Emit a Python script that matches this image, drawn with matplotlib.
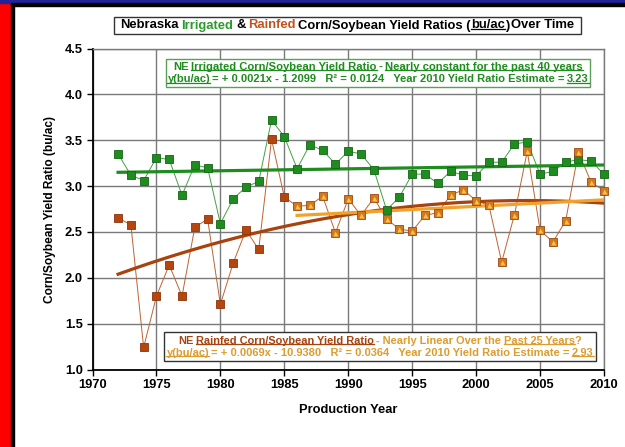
import numpy as np
import matplotlib
matplotlib.use("Agg")
import matplotlib.pyplot as plt
from matplotlib.patches import Rectangle
from matplotlib.lines import Line2D

plt.rcParams['font.family'] = ['Liberation Sans', 'DejaVu Sans']
plt.rcParams['font.weight'] = 'bold'

# data
years = list(range(1972, 2011))
irrigated = [3.35, 3.12, 3.06, 3.31, 3.29, 2.90, 3.23, 3.20, 2.59, 2.86,
             2.99, 3.05, 3.72, 3.54, 3.19, 3.45, 3.39, 3.24, 3.38, 3.35,
             3.18, 2.74, 2.88, 3.13, 3.13, 3.03, 3.16, 3.12, 3.11, 3.26,
             3.26, 3.46, 3.48, 3.13, 3.16, 3.26, 3.29, 3.27, 3.13]
rainfed = [2.65, 2.58, 1.24, 1.80, 2.14, 1.80, 2.55, 2.64, 1.71, 2.16,
           2.52, 2.31, 3.51, 2.88, 2.78, 2.79, 2.89, 2.49, 2.86, 2.68,
           2.87, 2.64, 2.53, 2.51, 2.68, 2.71, 2.90, 2.96, 2.84, 2.79,
           2.17, 2.69, 3.38, 2.52, 2.39, 2.62, 3.37, 3.04, 2.95]
split_year = 1986   # rainfed markers change style from here

irr_trend_years = [1972, 2010]
irr_trend = [3.15, 3.23]
rain_curve_years = [1972, 1976, 1980, 1985, 1990, 1995, 2000, 2005, 2010]
rain_curve = [2.04, 2.22, 2.39, 2.57, 2.70, 2.77, 2.82, 2.84, 2.82]
rain_lin_years = [1986, 2010]
rain_lin = [2.68, 2.85]

x_ticks = [1970, 1975, 1980, 1985, 1990, 1995, 2000, 2005, 2010]
y_ticks = [1.0, 1.5, 2.0, 2.5, 3.0, 3.5, 4.0, 4.5]

GREEN = '#1e8c1e'
BROWN = '#a8420e'
ORANGE = '#f0a22c'
ORTXT = '#dc9c2e'

W, H = 625, 447
fig = plt.figure(figsize=(W / 100, H / 100), dpi=100)
fig.patch.set_facecolor('white')

# frame decorations
fig.add_artist(Rectangle((0, 0), 11 / W, 1, transform=fig.transFigure, color='#ff0000', zorder=0))
fig.add_artist(Rectangle((11 / W, 0), 3 / W, 1, transform=fig.transFigure, color='black', zorder=0))
fig.add_artist(Rectangle((0, 1 - 3 / H), 1, 3 / H, transform=fig.transFigure, color='#22229a', zorder=0))
fig.add_artist(Rectangle((11 / W, 1 - 6 / H), 1, 3 / H, transform=fig.transFigure, color='black', zorder=0))

ax = fig.add_axes([92.5 / W, 1 - 369.5 / H, (604 - 92.5) / W, (369.5 - 48.5) / H])
ax.set_xlim(1970, 2010)
ax.set_ylim(1.0, 4.5)
ax.set_xticks(x_ticks)
ax.set_yticks(y_ticks)
ax.set_yticklabels(['%.1f' % v for v in y_ticks])
ax.grid(True, color='#7a7a7a', lw=1.0)
ax.set_axisbelow(True)
for s in ['top', 'right']:
    ax.spines[s].set_color('#7a7a7a')
    ax.spines[s].set_linewidth(1.0)
for s in ['left', 'bottom']:
    ax.spines[s].set_color('black')
    ax.spines[s].set_linewidth(1.3)
ax.tick_params(direction='out', length=4, width=1, labelsize=9.3, pad=3)
ax.set_xlabel('Production Year', fontsize=9.3, fontweight='bold', labelpad=9)
ax.set_ylabel('Corn/Soybean Yield Ratio (bu/ac)', fontsize=8.6, fontweight='bold', labelpad=6)

yrs = np.array(years)
irr = np.array(irrigated)
rain = np.array(rainfed)
early = yrs < split_year

# connecting lines
ax.plot(yrs, irr, color='#43a043', lw=0.7, zorder=3, clip_on=False)
ax.plot(yrs, rain, color='#bc6430', lw=0.7, zorder=3, clip_on=False)

# trend lines
ax.plot(irr_trend_years, irr_trend, color=GREEN, lw=2.3, zorder=4)
cf = np.polyfit(rain_curve_years, rain_curve, 2)
xx = np.linspace(rain_curve_years[0], rain_curve_years[-1], 200)
ax.plot(xx, np.polyval(cf, xx), color=BROWN, lw=2.3, zorder=4)
ax.plot(rain_lin_years, rain_lin, color=ORANGE, lw=2.3, zorder=4)

# markers
ax.plot(yrs, irr, 's', ms=5.4, mfc=GREEN, mec='#146414', mew=0.6, zorder=5, clip_on=False)
ax.plot(yrs[early], rain[early], 's', ms=5.4, mfc='#b4460e', mec='#8a3408', mew=0.6, zorder=5, clip_on=False)
ax.plot(yrs[~early], rain[~early], 's', ms=5.4, mfc='#d4781c', mec='#9a4a10', mew=0.6, zorder=5, clip_on=False)
ax.plot(yrs[~early], rain[~early], '^', ms=3.6, mfc='#ffc04a', mec='none', zorder=6, clip_on=False)


def rich_line(pieces, cx, cy, width):
    # pieces: (text, colour, underline, gap before it)
    items = []
    prev = None
    for s, c, u, g in pieces:
        if prev is None:
            t = ax.annotate(s, xy=(cx, H - cy), xycoords='figure pixels', ha='left', va='center',
                            color=c, fontsize=8, fontweight='bold', zorder=12, annotation_clip=False)
        else:
            t = ax.annotate(s, xy=(1, 0.5), xycoords=prev, xytext=(0, 0), textcoords='offset points',
                            ha='left', va='center',
                            color=c, fontsize=8, fontweight='bold', zorder=12, annotation_clip=False)
        items.append((t, c, u, g))
        prev = t
    return dict(items=items, cx=cx, cy=cy, width=width)


def set_size(ln, fs):
    for t, c, u, g in ln['items']:
        t.set_fontsize(fs)
        if g:
            t.xyann = (0.2 * fs, 0)
    ln['fs'] = fs


def box(x0, y0, x1, y1, ec):
    ax.add_patch(Rectangle((x0 / W, 1 - y1 / H), (x1 - x0) / W, (y1 - y0) / H,
                           transform=fig.transFigure, fc='white', ec=ec, lw=1.0,
                           zorder=11, clip_on=False))


lines = []
box(114, 17, 581, 34, '#333333')
lines.append(rich_line([('Nebraska', 'black', False, False), ('Irrigated', '#2a9a2a', False, True),
                        ('&', 'black', False, True), ('Rainfed', '#c4521c', False, True),
                        ('Corn/Soybean Yield Ratios (', 'black', False, True), ('bu/ac', 'black', True, False),
                        (')', 'black', False, False), ('Over Time', 'black', False, True)], 347.5, 25.5, 459))

box(166, 59, 590, 87, '#5aa05a')
lines.append(rich_line([('NE', GREEN, False, False), ('Irrigated Corn/Soybean Yield Ratio', GREEN, True, True),
                        ('-', GREEN, False, True), ('Nearly constant for the past 40 years', GREEN, True, True)],
                       378, 66.5, 412))
lines.append(rich_line([('y(bu/ac)', GREEN, True, False),
                        ('= + 0.0021x - 1.2099   R\u00b2 = 0.0124   Year 2010 Yield Ratio Estimate =', GREEN, False, True),
                        ('3.23', GREEN, True, True)], 378, 79.5, 420))

box(164, 332, 596, 361, '#333333')
lines.append(rich_line([('NE', BROWN, False, False), ('Rainfed Corn/Soybean Yield Ratio', BROWN, True, True),
                        ('- Nearly Linear Over the', ORTXT, False, True), ('Past 25 Years', ORTXT, True, True),
                        ('?', ORTXT, False, False)], 380, 340.5, 405))
lines.append(rich_line([('y(bu/ac)', ORTXT, True, False),
                        ('= + 0.0069x - 10.9380   R\u00b2 = 0.0364   Year 2010 Yield Ratio Estimate =', ORTXT, False, True),
                        ('2.93', ORTXT, True, True)], 380, 352.5, 426))


def line_width(ln):
    its = ln['items']
    return its[-1][0].get_window_extent().x1 - its[0][0].get_window_extent().x0


# fit each line to its width, centre it, then underline
for ln in lines:
    set_size(ln, 8)
fig.canvas.draw()
for ln in lines:
    set_size(ln, 8 * ln['width'] / line_width(ln))
fig.canvas.draw()
for ln in lines:
    p = (ln['cx'] - line_width(ln) / 2, H - ln['cy'])
    ln['items'][0][0].xy = p
    ln['items'][0][0].xyann = p
fig.canvas.draw()
for ln in lines:
    for t, c, u, g in ln['items']:
        if not u:
            continue
        bb = t.get_window_extent()
        yl = bb.y0 + 0.2 * bb.height
        ax.add_line(Line2D([bb.x0 / W, bb.x1 / W], [yl / H, yl / H], transform=fig.transFigure,
                           color=c, lw=0.9, zorder=13, clip_on=False))

fig.savefig('out.png', dpi=100)
